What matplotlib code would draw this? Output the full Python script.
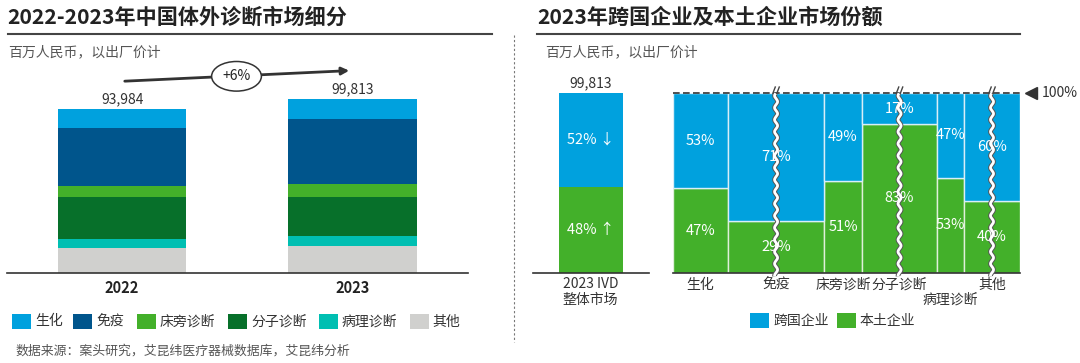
import matplotlib
matplotlib.use('Agg')
import matplotlib.pyplot as plt
from matplotlib.patches import Rectangle
import matplotlib.transforms as mtransforms
import numpy as np

plt.rcParams['font.family'] = ['Noto Sans CJK SC', 'DejaVu Sans']

# ---------------- data ----------------
years = ['2022', '2023']
segments = ['生化', '免疫', '床旁诊断', '分子诊断', '病理诊断', '其他']
values_2022 = [10735, 33300, 6490, 24110, 5170, 14179]
values_2023 = [11490, 37180, 7640, 22410, 5750, 15343]
totals = [93984, 99813]
growth_label = '+6%'

overall_total = 99813
overall_mnc = 52
overall_local = 48
mosaic_categories = ['生化', '免疫', '床旁诊断', '分子诊断', '病理诊断', '其他']
mnc_share = [53, 71, 49, 17, 47, 60]
local_share = [47, 29, 51, 83, 53, 40]
mosaic_widths = [55, 96, 38, 75, 27, 56]   # displayed (partly truncated) market size
truncated = [False, True, False, True, False, True]

# ---------------- style ----------------
seg_colors = ['#00A1DE', '#00558C', '#43B02A', '#07702A', '#00BFB2', '#D0D0CE']
c_mnc = '#00A1DE'
c_local = '#43B02A'
grey = '#555555'

W, H = 1080, 363
fig = plt.figure(figsize=(W / 100, H / 100), dpi=100)


def fx(x):
    return x / W


def fy(y):
    return 1 - y / H


def box(l, t, r, b):
    return [fx(l), fy(b), fx(r) - fx(l), fy(t) - fy(b)]


# ---------------- titles ----------------
fig.text(fx(7.6), fy(17), '2022-2023年中国体外诊断市场细分', fontsize=15.2, fontweight='bold',
         color='#222222', ha='left', va='center')
fig.text(fx(537), fy(17), '2023年跨国企业及本土企业市场份额', fontsize=15.2, fontweight='bold',
         color='#222222', ha='left', va='center')
for (x0, x1) in [(7.6, 492.4), (537, 1020)]:
    fig.add_artist(plt.Line2D([fx(x0), fx(x1)], [fy(33.5), fy(33.5)], color='#444444', lw=1.5))
fig.text(fx(8.6), fy(52.5), '百万人民币，以出厂价计', fontsize=10, color=grey, ha='left', va='center')
fig.text(fx(544.7), fy(52.5), '百万人民币，以出厂价计', fontsize=10, color=grey, ha='left', va='center')

# separator
fig.add_artist(plt.Line2D([fx(514), fx(514)], [fy(35), fy(342)], color='#777777', lw=0.8,
                          ls=(0, (2, 2))))

# ---------------- left stacked bars ----------------
ax1 = fig.add_axes(box(6.9, 60, 467.6, 272.7))
x = np.arange(len(years))
bottom = np.zeros(len(years))
for i in reversed(range(len(segments))):
    vals = np.array([values_2022[i], values_2023[i]])
    ax1.bar(x, vals, width=0.557, bottom=bottom, color=seg_colors[i], lw=0)
    bottom += vals
ax1.set_xlim(-0.5, 1.5)
ax1.set_ylim(0, 212.7 * 574.3)
for s in ['top', 'right', 'left']:
    ax1.spines[s].set_visible(False)
ax1.spines['bottom'].set_color('#333333')
ax1.spines['bottom'].set_linewidth(1.2)
ax1.set_yticks([])
ax1.set_xticks(x, years)
ax1.tick_params(axis='x', length=0, pad=5, labelsize=10.5, labelcolor='#222222')
for lab in ax1.get_xticklabels():
    lab.set_fontweight('bold')
for xi, t in zip(x, totals):
    ax1.annotate(f'{t:,}', (xi, t), xytext=(0, 7), textcoords='offset points',
                 ha='center', va='center', fontsize=10, color='#333333')

# growth arrow
fig.add_artist(matplotlib.patches.FancyArrowPatch(
    (fx(122), fy(81.3)), (fx(352), fy(70.5)), transform=fig.transFigure,
    arrowstyle='-|>', mutation_scale=11, color='#333333', lw=2))
fig.text(fx(236.5), fy(76.3), growth_label, fontsize=10, color='#222222', ha='center', va='center',
         bbox=dict(boxstyle='ellipse,pad=0.25', fc='white', ec='#333333', lw=1.1))

# left legend
leg_x = [12, 73, 136.7, 228, 318.5, 409.8]
for lx, lab, col in zip(leg_x, segments, seg_colors):
    fig.add_artist(Rectangle((fx(lx), fy(329)), fx(19), 15 / H, transform=fig.transFigure,
                             color=col, lw=0))
    fig.text(fx(lx + 23), fy(321.5), lab, fontsize=10, color='#333333', ha='left', va='center')

fig.text(fx(15.5), fy(351), '数据来源：案头研究，艾昆纬医疗器械数据库，艾昆纬分析', fontsize=9.3,
         color=grey, ha='left', va='center')

# ---------------- right: overall bar ----------------
ax2 = fig.add_axes(box(532.8, 93.3, 648.6, 272.7))
ax2.bar([0], [overall_local / 100], width=0.553, color=c_local, lw=0)
ax2.bar([0], [overall_mnc / 100], width=0.553, bottom=[overall_local / 100], color=c_mnc, lw=0)
ax2.set_xlim(-0.5, 0.5)
ax2.set_ylim(0, 1)
ax2.axis('off')
ax2.axhline(0, color='#333333', lw=1.2, clip_on=False)
ax2.text(0, overall_local / 200, f'{overall_local}% ↑', color='white', fontsize=10.5, ha='center', va='center')
ax2.text(0, overall_local / 100 + overall_mnc / 200, f'{overall_mnc}% ↓', color='white', fontsize=10.5,
         ha='center', va='center')
ax2.annotate(f'{overall_total:,}', (0, 1), xytext=(0, 7.2), textcoords='offset points',
             ha='center', va='center', fontsize=10, color='#333333')
tr2 = mtransforms.blended_transform_factory(ax2.transData, fig.transFigure)
ax2.text(0, fy(284.5), '2023 IVD', transform=tr2, ha='center', va='center', fontsize=10, color='#333333')
ax2.text(0, fy(300), '整体市场', transform=tr2, ha='center', va='center', fontsize=10, color='#333333')

# ---------------- right: mosaic ----------------
ax3 = fig.add_axes(box(673.1, 93.3, 1020, 272.7))
widths = np.array(mosaic_widths, dtype=float)
lefts = np.concatenate([[0], np.cumsum(widths)[:-1]])
centers = lefts + widths / 2
loc = np.array(local_share) / 100
mnc = np.array(mnc_share) / 100
ax3.bar(lefts, loc, width=widths, align='edge', color=c_local, edgecolor='#dff0da', lw=1)
ax3.bar(lefts, mnc, width=widths, bottom=loc, align='edge', color=c_mnc, edgecolor='#d8eef8', lw=1)
total_w = widths.sum()
ax3.set_xlim(0, total_w)
ax3.set_ylim(0, 1)
ax3.axis('off')
ax3.axhline(0, color='#333333', lw=1.2, clip_on=False)
ax3.axhline(1, color='#333333', lw=1.2, ls=(0, (4, 2)), clip_on=False)
for c, l, m in zip(centers, loc, mnc):
    ax3.text(c, l / 2, f'{round(l * 100)}%', color='white', fontsize=10.5, ha='center', va='center',
             zorder=10)
    ax3.text(c, l + m / 2, f'{round(m * 100)}%', color='white', fontsize=10.5, ha='center', va='center',
             zorder=10)

# break marks
yy = np.linspace(-0.02, 1.0, 300)
for c, tflag in zip(centers, truncated):
    if not tflag:
        continue
    xx = c + 1.5 * np.sin(yy * 179.4 / 12.0 * 2 * np.pi)
    ax3.plot(xx, yy, color='#555555', lw=3.4, clip_on=False, solid_capstyle='butt', zorder=5)
    ax3.plot(xx, yy, color='white', lw=2.0, clip_on=False, solid_capstyle='butt', zorder=6)
    for dx in (-2.0, 2.0):
        ax3.plot([c + dx - 1.2, c + dx + 1.2], [1.0, 1.035], color='#444444', lw=1, clip_on=False,
                 zorder=6)

# 100% marker
ax3.plot([total_w + 11], [1], marker='<', ms=9, color='#333333', clip_on=False)
ax3.text(total_w + 22, 1, '100%', fontsize=10, color='#333333', ha='left', va='center')

tr3 = mtransforms.blended_transform_factory(ax3.transData, fig.transFigure)
for c, lab in zip(centers, mosaic_categories):
    ypix = 299.5 if lab == '病理诊断' else 284.5
    ax3.text(c, fy(ypix), lab, transform=tr3, ha='center', va='center', fontsize=10, color='#333333',
             zorder=10)

# right legend
for lx, lab, col in [(750, '跨国企业', c_mnc), (837, '本土企业', c_local)]:
    fig.add_artist(Rectangle((fx(lx), fy(328)), fx(19), 15 / H, transform=fig.transFigure,
                             color=col, lw=0))
    fig.text(fx(lx + 23), fy(320.5), lab, fontsize=10, color='#333333', ha='left', va='center')

fig.savefig('out.png', dpi=100)
